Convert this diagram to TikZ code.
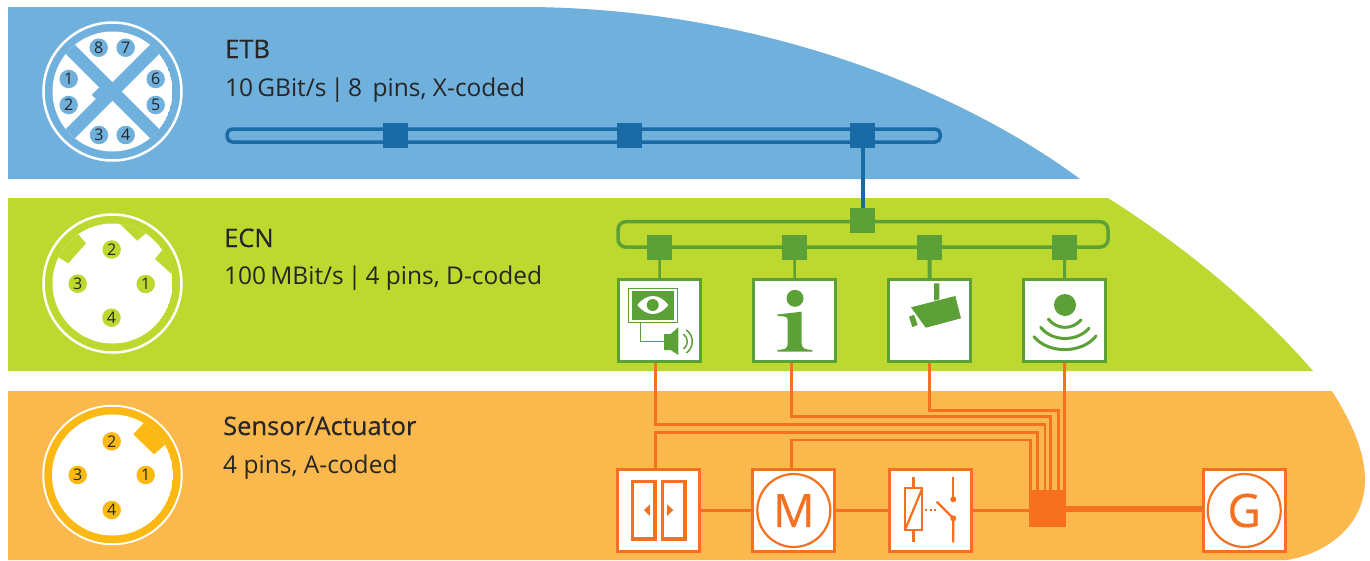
\documentclass[tikz,border=0pt]{standalone}
\usepackage{fontspec}
\setmainfont{Open Sans}
\newfontfamily\namefont[FakeBold=0.35]{Open Sans}
\definecolor{etbband}{HTML}{6FB0DC}
\definecolor{etbdark}{HTML}{1A6AA5}
\definecolor{ecnband}{HTML}{BDD82E}
\definecolor{ecndark}{HTML}{5CA137}
\definecolor{senband}{HTML}{FBB84C}
\definecolor{senring}{HTML}{FDB913}
\definecolor{sendark}{HTML}{F5711F}
\definecolor{labeltext}{HTML}{262626}
\tikzset{
  head/.style={anchor=base west, inner sep=0pt, text=labeltext, font=\fontsize{24.5}{24}\selectfont},
  headname/.style={head, font=\namefont\fontsize{25.5}{24}\selectfont},
  pin/.style={circle, fill=#1, inner sep=0pt, minimum size=18.5pt, text=labeltext, font=\fontsize{16}{16}\selectfont},
  hubsq/.style={fill=#1, inner sep=0pt, minimum size=25pt},
  busline/.style={draw=#1, line width=3.5pt, rounded corners=5pt, inner sep=0pt},
  device/.style={draw=#1, fill=white, line width=3pt, inner sep=0pt, minimum size=82pt},
  bigletter/.style={circle, draw=sendark, line width=2.2pt, inner sep=0pt, minimum size=73pt, text=sendark, font=\namefont\fontsize{46}{46}\selectfont},
  olink/.style={draw=sendark, line width=2.8pt, line join=miter},
}
\begin{document}
\begin{tikzpicture}[x=1pt,y=-1pt]
\useasboundingbox (0,0) rectangle (1370,560);
% bands
\fill[etbband] (8,7) -- (530,7) .. controls (760,9) and (960,90) .. (1080,179) -- (8,179) -- cycle;
\fill[ecnband] (8,198) -- (1108,198) .. controls (1190,250) and (1260,310) .. (1313,371) -- (8,371) -- cycle;
\fill[senband] (8,391) -- (1332,391) .. controls (1350,420) and (1365,450) .. (1365,480)
  .. controls (1365,530) and (1320,555) .. (1287,560) -- (8,560) -- cycle;

% connector faces
\draw[white, line width=2.5pt] (112.5,91.5) circle (69);
\begin{scope}
  \clip (112.5,91.5) circle (60);
  \fill[white] (112.5,91.5) circle (60);
  \draw[etbband, line width=13pt] (42.5,21.5) -- (182.5,161.5);
  \draw[etbband, line width=13pt] (182.5,21.5) -- (42.5,161.5);
  \fill[etbband] (99.3,87.3) -- (91.7,95) -- (97.3,100) -- (108,92) -- cycle;
\end{scope}
\foreach \n/\x/\y in {8/98.7/47.7, 7/125.7/47.7, 1/68.7/79, 2/68.7/105, 6/155.7/79, 5/155.7/105, 3/99/135, 4/125.7/135}
  \node[pin=etbband] (etbpin\n) at (\x,\y) {\n};

\draw[white, line width=2.5pt] (112.5,283.5) circle (69);
\begin{scope}
  \clip (112.5,283.5) circle (60);
  \fill[white] (112.5,283.5) circle (60);
  \fill[ecnband] (78.3,234.3) -- (86,243.3) -- (68.3,263.3) -- (58.3,257.3) -- (50,230) -- (78,215) -- cycle;
  \fill[ecnband] (119.3,223.3) -- (137.3,240.7) -- (148.3,231) -- (165,246.7) -- (155,259) -- (172.7,275) -- (190,250) -- (150,205) -- cycle;
\end{scope}
\foreach \n/\x/\y in {2/111.7/249.5, 3/77.7/283.7, 1/145.7/284, 4/111.5/317.7}
  \node[pin=ecnband] (ecnpin\n) at (\x,\y) {\n};

\draw[white, line width=2.5pt] (112.5,475) circle (69);
\draw[senring, line width=8.5pt] (112.5,475) circle (64);
\begin{scope}
  \clip (112.5,475) circle (60.5);
  \fill[white] (112.5,475) circle (60.5);
  \fill[senring] (133.3,434.3) -- (144,422.7) -- (170,405) -- (190,440) -- (166.7,443.3) -- (154,454.3) -- cycle;
\end{scope}
\foreach \n/\x/\y in {2/111.7/441.3, 3/77.7/475, 1/145.7/475, 4/111.7/510}
  \node[pin=senring] (senpin\n) at (\x,\y) {\n};

% labels
\node[headname] (etbname) at (225,58) {ETB};
\node[head] (etbinfo) at (225,96) {10\,GBit/s\,|\,8\, pins, X-coded};
\node[headname] (ecnname) at (224,247) {ECN};
\node[head] (ecninfo) at (224,284) {100\,MBit/s\,|\,4 pins, D-coded};
\node[headname] (senname) at (223,435) {Sensor/Actuator};
\node[head] (seninfo) at (223,473) {4 pins, A-coded};

% ETB bus
\node[busline=etbdark, minimum width=713pt, minimum height=13pt] (etbbus) at (583.7,135.5) {};
\foreach \n/\x in {a/395.5, b/629.5, c/862.5}
  \node[hubsq=etbdark] (etb\n) at (\x,135.5) {};

% ECN bus
\node[busline=ecndark, rounded corners=8pt, minimum width=490pt, minimum height=25.5pt] (ecnbus) at (863,234.4) {};
\node[hubsq=ecndark] (ecntop) at (862.5,220.5) {};
\draw[etbdark, line width=4pt] (etbc.south) -- (ecntop.north);
\foreach \n/\x in {a/659.5, b/794.5, c/929.5, d/1064.5}
  \node[hubsq=ecndark] (ecn\n) at (\x,247.5) {};

% devices
\node[device=ecndark] (screen) at (659.6,320.5) {};
\node[device=ecndark] (info) at (794.6,320.5) {};
\node[device=ecndark] (camera) at (929.6,320.5) {};
\node[device=ecndark] (sensor) at (1064.6,320.5) {};
\draw[ecndark, line width=2.5pt] (ecna.south) -- (screen.north);
\draw[ecndark, line width=2.5pt] (ecnb.south) -- (info.north);
\draw[ecndark, line width=4pt] (ecnc.south) -- (camera.north);
\draw[ecndark, line width=3pt] (ecnd.south) -- (sensor.north);

% screen icon
\draw[ecndark, line width=1.2pt] (628.7,288.3) rectangle (677.7,322.3);
\fill[ecndark] (632.3,291) rectangle (674,320);
\fill[white] (637.3,305) .. controls (647,293) and (659,293) .. (668.3,305) .. controls (659,317) and (647,317) .. (637.3,305) -- cycle;
\fill[ecndark] (652.7,305) circle (6);
\draw[ecndark, line width=1.2pt] (640.3,322.3) -- (640.3,341.3) -- (664,341.3);
\fill[ecndark] (664,334) -- (670.7,334) -- (678.3,327.3) -- (678.3,355) -- (670.7,350) -- (664,350) -- cycle;
\draw[ecndark, line width=1.5pt] (678.3,341.5) ++(-55:9) arc (-55:55:9);
\draw[ecndark, line width=1.5pt] (678.3,341.5) ++(-55:14) arc (-55:55:14);

% info icon
\fill[ecndark] (795,298.3) circle (8.5);
\fill[ecndark] (777.3,314.5) -- (801.7,311.7) -- (801.7,344) .. controls (802,349) and (806,349.5) .. (812.3,350)
  -- (812.3,351.7) -- (777.3,351.7) -- (777.3,350) .. controls (784,349.5) and (787.7,349) .. (787.7,344)
  -- (787.7,320) .. controls (787.7,316.5) and (784,316) .. (777.3,316) -- cycle;

% camera icon
\fill[ecndark] (934,283.3) -- (939.3,283.3) -- (939.3,299.3) -- (934,300.7) -- cycle;
\fill[ecndark] (911,307.3) -- (955.3,296) -- (961,318.3) -- (925.7,327.7) -- cycle;
\fill[ecndark] (909,316.7) -- (914,314.7) -- (917.7,325) -- (912.3,327) -- cycle;

% sensor icon
\fill[ecndark] (1065,305) circle (11);
\draw[ecndark, line width=3pt, line cap=round] (1048.3,319) .. controls (1057,330) and (1072,330) .. (1081,320);
\draw[ecndark, line width=3pt, line cap=round] (1040.7,327.3) .. controls (1052,342) and (1077,342) .. (1089,328.3);
\draw[ecndark, line width=3pt, line cap=round] (1034,336.7) .. controls (1048,354) and (1082,354) .. (1096,336);

% actuators
\node[device=sendark] (door) at (658.7,510.5) {};
\node[device=sendark] (motor) at (793.8,510.5) {};
\node[device=sendark] (relay) at (930.8,510.5) {};
\node[device=sendark] (gener) at (1244.2,510.5) {};
\node[fill=sendark, inner sep=0pt, minimum size=37pt] (hub) at (1047.3,508.4) {};
\node[bigletter] (mletter) at (motor.center) {M};
\node[bigletter] (gletter) at (gener.center) {G};

% door icon
\draw[sendark, line width=3.5pt] (632.5,481.5) rectangle (655,539);
\draw[sendark, line width=3.5pt] (662.5,481.5) rectangle (685,539);
\fill[sendark] (644,510) -- (650,504.3) -- (650,516) -- cycle;
\fill[sendark] (673.3,510) -- (667,504.3) -- (667,516) -- cycle;

% relay icon
\draw[sendark, line width=2.2pt] (905,488.3) rectangle (922.3,530);
\draw[sendark, line width=2.2pt] (922.3,488.3) -- (905,530);
\draw[sendark, line width=2.2pt] (913.5,477.3) -- (913.5,488.3);
\draw[sendark, line width=2.2pt] (913.5,530) -- (913.5,542.3);
\draw[sendark, line width=1.6pt, dash pattern=on 2pt off 2.6pt] (925,510) -- (938,510);
\draw[sendark, line width=2.2pt] (953.3,477.3) -- (953.3,499.3);
\fill[sendark] (953.3,499.3) circle (3);
\draw[sendark, line width=2.2pt] (936.7,501.7) -- (953.3,518.3) -- (953.3,542.3);
\fill[sendark] (953.3,518.3) circle (3);

% wiring
\draw[olink] (door.east) -- (motor.west);
\draw[olink] (motor.east) -- (relay.west);
\draw[olink] (relay.east) -- (relay.east -| hub.west);
\draw[sendark, line width=6pt] (hub.east |- gener.west) ++(0,-1.8) -- ([yshift=1.8pt]gener.west);
\coordinate (in1) at (1030.7,490);
\coordinate (in2) at (1037.3,490);
\coordinate (in3) at (1045,490);
\coordinate (in4) at (1050.7,490);
\coordinate (in5) at (1058.3,490);
\coordinate (in6) at (1064.4,490);
\coordinate (turn1) at (1030.7,440);
\coordinate (turn2) at (1037.3,432.3);
\coordinate (turn3) at (1045,424.3);
\coordinate (turn4) at (1050.7,416.7);
\coordinate (turn5) at (1058.3,410.7);
\draw[olink] ([xshift=-2.1pt]motor.north) |- (turn1) -- (in1);
\draw[olink] ([xshift=-3.2pt]door.north) |- (turn2) -- (in2);
\draw[olink] ([xshift=-4.3pt]screen.south) |- (turn3) -- (in3);
\draw[olink] ([xshift=-3.1pt]info.south) |- (turn4) -- (in4);
\draw[olink] (camera.south) |- (turn5) -- (in5);
\draw[olink] (sensor.south) -- (in6);
\end{tikzpicture}
\end{document}
